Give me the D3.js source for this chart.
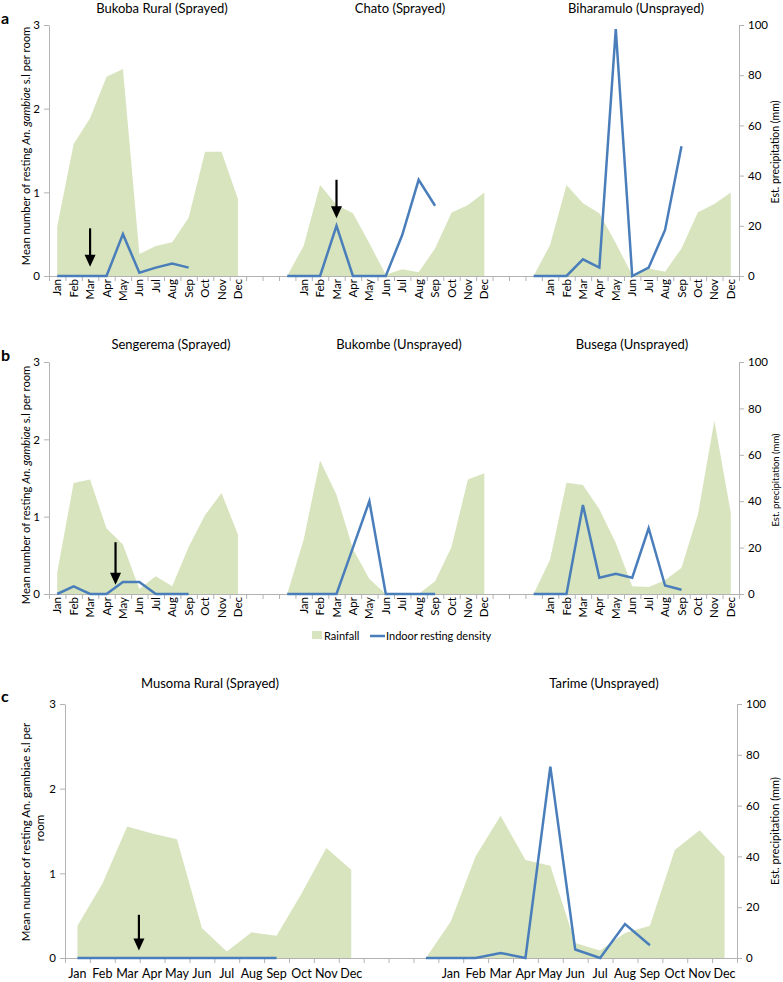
<!DOCTYPE html>
<html><head><meta charset="utf-8">
<script src="https://cdn.jsdelivr.net/npm/d3@7"></script>
<style>
body{margin:0;background:#fff}
svg{display:block}
text{font-family:Lato,"Open Sans",sans-serif;fill:#000}
</style></head>
<body><svg width="783" height="982"></svg>
<script>
// ---------- DATA ----------
const months = ["Jan","Feb","Mar","Apr","May","Jun","Jul","Aug","Sep","Oct","Nov","Dec"];
const gap = ["","",""];
const leftTicks = [0,1,2,3];
const rightTicks = [0,20,40,60,80,100];

// Rainfall (mm) and indoor resting density (per room). Arrays beginning with a
// "lead" value start at the empty category just before January.
const bukobaRain    = [19.7,52.6,62.8,79.4,82.5,8.8,12,13.4,23.2,49.5,49.5,30.7];
const bukobaDensity = [0,0,0,0,0.5,0.04,0.1,0.15,0.1];
const chatoRain     = [0,12,36.3,28.3,25,13,0.5,2.7,1.5,11,25.2,28.3,33.3];
const chatoDensity  = [0,0,0,0.6,0,0,0,0.49,1.15,0.84];
const biharamuloRain    = [0,12.4,36.3,29,25,13,0.4,3,1.7,11,25.4,28.7,33.3];
const biharamuloDensity = [0,0,0,0.2,0.1,2.95,0,0.1,0.55,1.55];

const sengeremaRain    = [9.3,47.8,49.3,28.2,21.3,2.2,7.6,3.3,20.3,34,43.5,25.6];
const sengeremaDensity = [0,0.1,0,0,0.155,0.155,0,0,0];
const bukombeRain      = [0,23.4,57.5,42.8,19.4,6.5,0,0,0,5.5,20.3,49.4,52];
const bukombeDensity   = [0,0,0,0,0.6,1.2,0,0,0,0];
const busegaRain       = [0,14.9,48,47,36.5,22,3.3,3,5.9,11.3,34.3,74.7,35];
const busegaDensity    = [0,0,0,1.15,0.21,0.26,0.21,0.85,0.11,0.056];

const musomaRain     = [12.7,29.2,51.8,49,46.8,11.8,2.6,10.1,8.8,25.3,43.3,34.7];
const musomaDensity  = [0,0,0,0,0,0,0,0,0];
const tarimeRain     = [0,14.4,40.1,56,38.6,36.3,5.9,3,9.8,12.7,42.5,50.3,39.9];
const tarimeDensity  = [0,0,0,0.06,0,2.26,0.1,0,0.4,0.15];

const rowLabels3 = [...months,...gap,...months,...gap,...months];
const rowLabels2 = [...months,...gap,...months];

// ---------- LAYOUT ----------
const GREEN="#d7e4bd", BLUE="#4a7ebb", AX="#b3b3b3";
const svg = d3.select("svg");

const panels = [
 {letter:"a", letterY:24, labels:rowLabels3, left:49, right:739, top:25, bottom:276, rotate:true,
  titleY:13, rTitle:{y:152,size:10.5}, lTitle:{y:146},
  sites:[
   {title:"Bukoba Rural (Sprayed)", tx:162, block:0, rain:bukobaRain, dens:bukobaDensity},
   {title:"Chato (Sprayed)", tx:400, block:15, rain:chatoRain, dens:chatoDensity},
   {title:"Biharamulo (Unsprayed)", tx:636, block:30, rain:biharamuloRain, dens:biharamuloDensity}],
  arrows:[{pos:2.5,from:0.57,to:0.11},{pos:17.5,from:1.15,to:0.69}]},
 {letter:"b", letterY:361, labels:rowLabels3, left:49, right:739, top:362, bottom:594, rotate:true,
  titleY:349, rTitle:{y:480,size:9.5}, lTitle:{y:485},
  sites:[
   {title:"Sengerema (Sprayed)", tx:171, block:0, rain:sengeremaRain, dens:sengeremaDensity},
   {title:"Bukombe (Unsprayed)", tx:399, block:15, rain:bukombeRain, dens:bukombeDensity},
   {title:"Busega (Unsprayed)", tx:632, block:30, rain:busegaRain, dens:busegaDensity}],
  arrows:[{pos:4.05,from:0.67,to:0.12}]},
 {letter:"c", letterY:702, labels:rowLabels2, left:65, right:737, top:704, bottom:958, rotate:false,
  titleY:688, rTitle:{y:831,size:11}, lTitle:{y:832, twoLine:true},
  sites:[
   {title:"Musoma Rural (Sprayed)", tx:210, block:0, rain:musomaRain, dens:musomaDensity},
   {title:"Tarime (Unsprayed)", tx:604, block:15, rain:tarimeRain, dens:tarimeDensity}],
  arrows:[{pos:2.97,from:0.51,to:0.09}]}
];

panels.forEach(p => {
  const n = p.labels.length;
  const x = d3.scaleBand().domain(d3.range(n)).range([p.left,p.right]);
  const xb = d3.scaleLinear().domain([0,n]).range([p.left,p.right]);
  const cx = i => x(i) + x.bandwidth()/2;
  const yL = d3.scaleLinear().domain([0,3]).range([p.bottom,p.top]);
  const yR = d3.scaleLinear().domain([0,100]).range([p.bottom,p.top]);
  const g = svg.append("g");

  // areas
  p.sites.forEach(s => {
    const start = s.rain.length === 13 ? s.block - 1 : s.block;
    const pts = s.rain.map((v,k)=>({i:start+k, v}));
    g.append("path").datum(pts)
      .attr("fill",GREEN)
      .attr("d", d3.area().x(d=>cx(d.i)).y0(yR(0)).y1(d=>yR(d.v)));
  });

  // x axis
  const xa = g.append("g").attr("transform",`translate(0,${p.bottom})`)
    .call(d3.axisBottom(xb).tickValues(d3.range(n+1)).tickSize(5).tickSizeOuter(0).tickFormat(""));
  xa.selectAll("path,line").attr("stroke",AX);

  // x labels
  const lbl = g.append("g").selectAll("text").data(p.labels.map((l,i)=>({l,i})).filter(d=>d.l))
    .join("text").text(d=>d.l);
  if (p.rotate) {
    lbl.attr("font-size",11.5).attr("text-anchor","end")
      .attr("transform",d=>`translate(${cx(d.i)+4},${p.bottom+3}) rotate(-90)`);
  } else {
    lbl.attr("font-size",12.5).attr("text-anchor","middle")
      .attr("x",d=>cx(d.i)).attr("y",p.bottom+20);
  }

  // left axis
  const la = g.append("g").attr("transform",`translate(${p.left},0)`)
    .call(d3.axisLeft(yL).tickValues(leftTicks).tickSize(5).tickSizeOuter(0).tickPadding(4).tickFormat(d3.format("d")));
  la.selectAll("path,line").attr("stroke",AX);
  la.selectAll("text").attr("font-size",11.5).attr("font-family","Lato,sans-serif").attr("fill","#000");

  // right axis
  const ra = g.append("g").attr("transform",`translate(${p.right},0)`)
    .call(d3.axisRight(yR).tickValues(rightTicks).tickSize(5).tickSizeOuter(0).tickPadding(4));
  ra.selectAll("path,line").attr("stroke",AX);
  ra.selectAll("text").attr("font-size",11.5).attr("font-family","Lato,sans-serif").attr("fill","#000");

  // density lines
  p.sites.forEach(s => {
    const start = s.dens.length === 10 ? s.block - 1 : s.block;
    const pts = s.dens.map((v,k)=>({i:start+k, v}));
    g.append("path").datum(pts)
      .attr("fill","none").attr("stroke",BLUE).attr("stroke-width",2.5)
      .attr("stroke-linejoin","miter")
      .attr("d", d3.line().x(d=>cx(d.i)).y(d=>yL(d.v)));
  });

  // arrows
  p.arrows.forEach(a => {
    const ax = xb(a.pos), y1 = yL(a.from), y2 = yL(a.to);
    g.append("line").attr("x1",ax).attr("x2",ax).attr("y1",y1).attr("y2",y2-10)
      .attr("stroke","#000").attr("stroke-width",2.2);
    g.append("path").attr("fill","#000")
      .attr("d",`M${ax-5.5},${y2-12}L${ax+5.5},${y2-12}L${ax},${y2}Z`);
  });

  // titles
  p.sites.forEach(s => {
    g.append("text").attr("x",s.tx).attr("y",p.titleY).attr("text-anchor","middle")
      .attr("font-size",13).text(s.title);
  });

  // panel letter
  g.append("text").attr("x",1).attr("y",p.letterY).attr("font-size",16).attr("font-weight","bold")
    .attr("font-family","Liberation Sans,Arial,sans-serif").text(p.letter);

  // left axis title
  if (p.lTitle.twoLine) {
    g.append("text").attr("transform",`translate(30,${p.lTitle.y}) rotate(-90)`)
      .attr("text-anchor","middle").attr("font-size",11.5)
      .text("Mean number of resting An. gambiae s.l per");
    g.append("text").attr("transform",`translate(44,828) rotate(-90)`)
      .attr("text-anchor","middle").attr("font-size",11.5).text("room");
  } else {
    const t = g.append("text").attr("transform",`translate(30,${p.lTitle.y}) rotate(-90)`)
      .attr("text-anchor","middle").attr("font-size",11.2);
    t.append("tspan").text("Mean number of resting ");
    t.append("tspan").attr("font-style","italic").text("An. gambiae");
    t.append("tspan").text(" s.l per room");
  }

  // right axis title
  g.append("text").attr("transform",`translate(779,${p.rTitle.y}) rotate(-90)`)
    .attr("text-anchor","middle").attr("font-size",p.rTitle.size).text("Est. precipitation (mm)");
});

// legend
const lg = svg.append("g");
lg.append("rect").attr("x",312).attr("y",631).attr("width",10).attr("height",8).attr("fill",GREEN);
lg.append("text").attr("x",324).attr("y",640).attr("font-size",11).text("Rainfall");
lg.append("line").attr("x1",370).attr("x2",385).attr("y1",636).attr("y2",636).attr("stroke",BLUE).attr("stroke-width",2.5);
lg.append("text").attr("x",386).attr("y",640).attr("font-size",11).text("Indoor resting density");
</script></body></html>
